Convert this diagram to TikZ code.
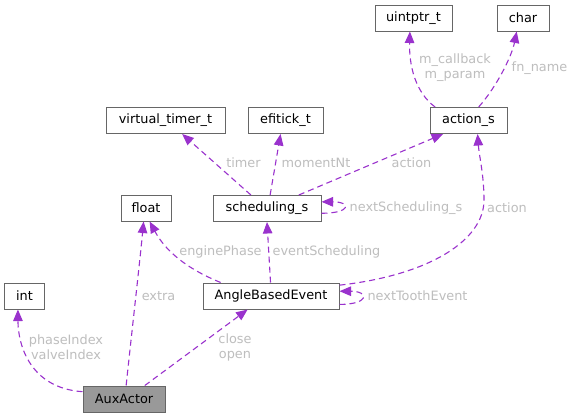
\documentclass[tikz,border=0pt]{standalone}
\usepackage{fontspec}
\setmainfont{DejaVu Sans}
\usetikzlibrary{arrows.meta}
\definecolor{edgecol}{HTML}{9A32CD}
\definecolor{labcol}{HTML}{BEBEBE}
\definecolor{boxcol}{HTML}{666666}
\definecolor{rootfill}{HTML}{999999}
\begin{document}
\begin{tikzpicture}[x=1bp,y=-1bp,
  cls/.style={draw=boxcol, line width=1bp, fill=white, inner sep=0pt, minimum height=26bp, font=\fontsize{12.9}{15}\selectfont, text=black},
  root/.style={cls, fill=rootfill},
  dep/.style={draw=edgecol, line width=1.1bp, dash pattern=on 6bp off 4bp, -{Triangle[length=11.5bp,width=9.5bp]}},
  lab/.style={text=labcol, font=\fontsize{12.9}{15}\selectfont, align=center, inner sep=0pt}]
\path[fill=white, use as bounding box] (0,0) rectangle (574,417);
% classes
\node[cls, minimum width=77bp] (uint) at (413.5,18) {uintptr\_t};
\node[cls, minimum width=52bp] (char) at (523,18) {char};
\node[cls, minimum width=119bp] (vt) at (165.5,120.5) {virtual\_timer\_t};
\node[cls, minimum width=75bp] (eft) at (285.5,120.5) {efitick\_t};
\node[cls, minimum width=77bp] (action) at (468.5,120.5) {action\_s};
\node[cls, minimum width=108bp] (sched) at (267,208.5) {scheduling\_s};
\node[cls, minimum width=50bp] (float) at (146,208) {float};
\node[cls, minimum width=136bp] (abe) at (271,296) {AngleBasedEvent};
\node[cls, minimum width=39bp] (int) at (24.5,296) {int};
\node[root, minimum width=82bp] (aux) at (124,399) {AuxActor};
% connectors
\draw[dep] (aux.170) .. controls (30,388) and (18,345) .. (int.244);
\draw[dep] (aux.81) .. controls (132,330) and (140,260) .. (float.-100);
\draw[dep] (aux.33) -- (abe.-150);
\draw[dep] (abe.165) .. controls (185,268) and (165,250) .. (float.-75);
\draw[dep] (abe.92) -- (sched.south);
\draw[dep] (abe.-7) .. controls +(30,0) and +(30,0) .. (abe.4);
\draw[dep] (abe.9) .. controls (430,275) and (484,240) .. (484,200) .. controls (484,175) and (479,155) .. (action.-56);
\draw[dep] (sched.140) -- (vt.-39);
\draw[dep] (sched.77) -- (eft.-110);
\draw[dep] (sched.23) -- (action.-152);
\draw[dep] (sched.-5) .. controls +(30,0) and +(30,0) .. (sched.7);
\draw[dep] (action.158) .. controls (415,92) and (409,65) .. (uint.-105);
\draw[dep] (action.53) .. controls (498,85) and (512,55) .. (char.-115);
% labels
\node[lab] (l1) at (66,347) {phaseIndex\\valveIndex};
\node[lab] (l2) at (158.5,296) {extra};
\node[lab] (l3) at (235,347) {close\\open};
\node[lab] (l4) at (220.5,252) {enginePhase};
\node[lab] (l5) at (326.5,252) {eventScheduling};
\node[lab] (l6) at (417.5,296) {nextToothEvent};
\node[lab] (l7) at (507,208) {action};
\node[lab] (l8) at (406,208) {nextScheduling\_s};
\node[lab] (l9) at (243.5,163) {timer};
\node[lab] (l10) at (316,163) {momentNt};
\node[lab] (l11) at (411.5,163) {action};
\node[lab] (l12) at (455,68) {m\_callback\\m\_param};
\node[lab] (l13) at (539.5,68) {fn\_name};
\end{tikzpicture}
\end{document}
